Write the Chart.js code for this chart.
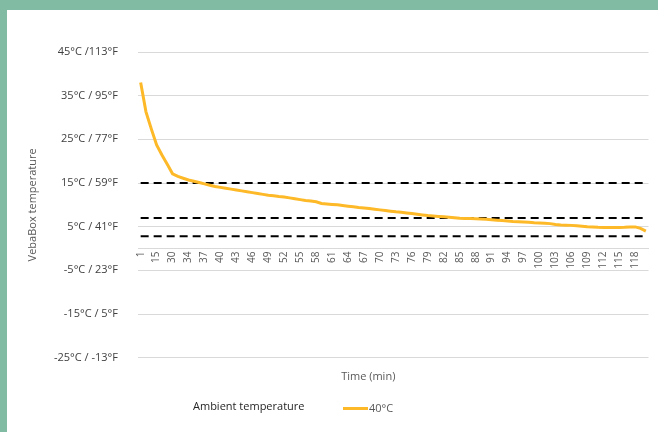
<!DOCTYPE html>
<html>
<head>
<meta charset="utf-8">
<script src="https://cdn.jsdelivr.net/npm/chart.js@4/dist/chart.umd.min.js"></script>
<style>
  html, body { margin: 0; padding: 0; width: 658px; height: 432px; overflow: hidden; background: #82bba4; }
  #wrap { position: absolute; left: 7px; top: 10px; width: 651px; height: 422px; background: #ffffff; }
</style>
</head>
<body>
<div id="wrap"><canvas id="chart"></canvas></div>
<script>
// ---- data ----
const timeLabels = ['1','5','10','15','20','25','30','32','33',
  '34','35','36','37','38','39','40','41','42','43','44','45','46','47','48','49','50',
  '51','52','53','54','55','56','57','58','59','60','61','62','63','64','65','66','67',
  '68','69','70','71','72','73','74','75','76','77','78','79','80','81','82','83','84',
  '85','86','87','88','89','90','91','92','93','94','95','96','97','98','99','100','101',
  '102','103','104','105','106','107','108','109','110','111','112','113','114','115',
  '116','117','118','119','120'];

const temp40C = [38.0, 31.3, 27.4, 23.7, 21.4, 19.3, 17.1, 16.5, 16.1, 15.7,
  15.4, 15.1, 14.8, 14.5, 14.2, 14.0, 13.8, 13.6, 13.4, 13.2,
  13.0, 12.8, 12.6, 12.4, 12.2, 12.1, 11.9, 11.8, 11.6, 11.4,
  11.2, 11.0, 10.9, 10.7, 10.3, 10.2, 10.1, 10.0, 9.85, 9.7,
  9.55, 9.4, 9.3, 9.15, 9.0, 8.85, 8.7, 8.55, 8.4, 8.3,
  8.15, 8.0, 7.85, 7.7, 7.55, 7.45, 7.35, 7.25, 7.15, 7.05,
  6.95, 6.9, 6.85, 6.8, 6.75, 6.7, 6.6, 6.5, 6.4, 6.3,
  6.2, 6.15, 6.1, 6.0, 5.9, 5.85, 5.8, 5.7, 5.5, 5.4,
  5.35, 5.3, 5.2, 5.1, 5.0, 4.95, 4.85, 4.8, 4.8, 4.8,
  4.8, 4.85, 4.95, 4.95, 4.6, 4.0];

const limitHigh = 15;
const limitMid = 7;
const limitLow = 2.8;

const yTickValues = [45, 35, 25, 15, 5, -5, -15, -25];
const yTickLabels = ['45°C /113°F', '35°C / 95°F', '25°C / 77°F', '15°C / 59°F',
  '5°C / 41°F', '-5°C / 23°F', '-15°C / 5°F', '-25°C / -13°F'];

const seriesLabel = '40°C';
const legendTitle = 'Ambient temperature';
const xAxisTitle = 'Time (min)';
const yAxisTitle = 'VebaBox temperature';

// ---- chart ----
Chart.defaults.font.family = '"Open Sans", "Noto Sans", sans-serif';

const firstT = timeLabels[0];
const lastT = timeLabels[timeLabels.length - 1];
function limitLine(v) { return [{x: firstT, y: v}, {x: lastT, y: v}]; }

const dashedStyle = {
  borderColor: '#000000', borderWidth: 2, borderDash: [8, 5],
  pointRadius: 0, fill: false, tension: 0
};

const overlay = {
  id: 'overlay',
  afterDraw(chart) {
    const ctx = chart.ctx;
    const a = chart.chartArea;
    ctx.save();
    ctx.font = '11px "Open Sans", sans-serif';
    ctx.textBaseline = 'middle';
    // x axis title
    ctx.fillStyle = '#595959';
    ctx.textAlign = 'center';
    ctx.fillText(xAxisTitle, (a.left + a.right) / 2 - 25, 367);
    // legend
    ctx.textAlign = 'left';
    ctx.fillStyle = '#262626';
    ctx.fillText(legendTitle, 186, 397);
    const ds = chart.data.datasets[0];
    ctx.strokeStyle = ds.borderColor;
    ctx.lineWidth = 3;
    ctx.beginPath();
    ctx.moveTo(336, 398.5);
    ctx.lineTo(361, 398.5);
    ctx.stroke();
    ctx.fillStyle = '#595959';
    ctx.fillText(ds.label, 362, 398.5);
    ctx.restore();
  }
};

new Chart(document.getElementById('chart'), {
  type: 'line',
  data: {
    labels: timeLabels,
    datasets: [
      { label: seriesLabel, data: temp40C, borderColor: '#fdb927', borderWidth: 3,
        pointRadius: 0, fill: false, tension: 0 },
      Object.assign({ label: 'limit15', data: limitLine(limitHigh) }, dashedStyle),
      Object.assign({ label: 'limit7', data: limitLine(limitMid) }, dashedStyle),
      Object.assign({ label: 'limit3', data: limitLine(limitLow) }, dashedStyle)
    ]
  },
  options: {
    responsive: true,
    maintainAspectRatio: false,
    animation: false,
    events: [],
    layout: { padding: { top: 42, right: 9.5, bottom: 74.3, left: 0 } },
    plugins: { legend: { display: false }, tooltip: { enabled: false } },
    scales: {
      x: {
        type: 'category',
        offset: true,
        position: { y: 0 },
        grid: { display: false, drawTicks: false },
        border: { display: true, color: '#d9d9d9', width: 1 },
        ticks: {
          autoSkip: false, minRotation: 90, maxRotation: 90, padding: 3,
          color: '#595959', font: { size: 10 },
          callback: function (value, index) {
            return index % 3 === 0 ? this.getLabelForValue(value) : null;
          }
        },
        afterFit: (s) => { s.paddingLeft = 0; s.paddingRight = 0; }
      },
      y: {
        type: 'linear',
        min: -25, max: 45,
        ticks: {
          stepSize: 10, padding: 20, color: '#404040', font: { size: 11 },
          callback: (v) => {
            const i = yTickValues.indexOf(v);
            return i >= 0 ? yTickLabels[i] : '';
          }
        },
        grid: { color: '#d9d9d9', lineWidth: 1, drawTicks: false },
        border: { display: false },
        title: { display: true, text: yAxisTitle, color: '#595959', font: { size: 11 },
                 padding: { top: 19.4, bottom: 0 } },
        afterFit: (s) => { s.width = 131; }
      }
    }
  },
  plugins: [overlay]
});
</script>
</body>
</html>
